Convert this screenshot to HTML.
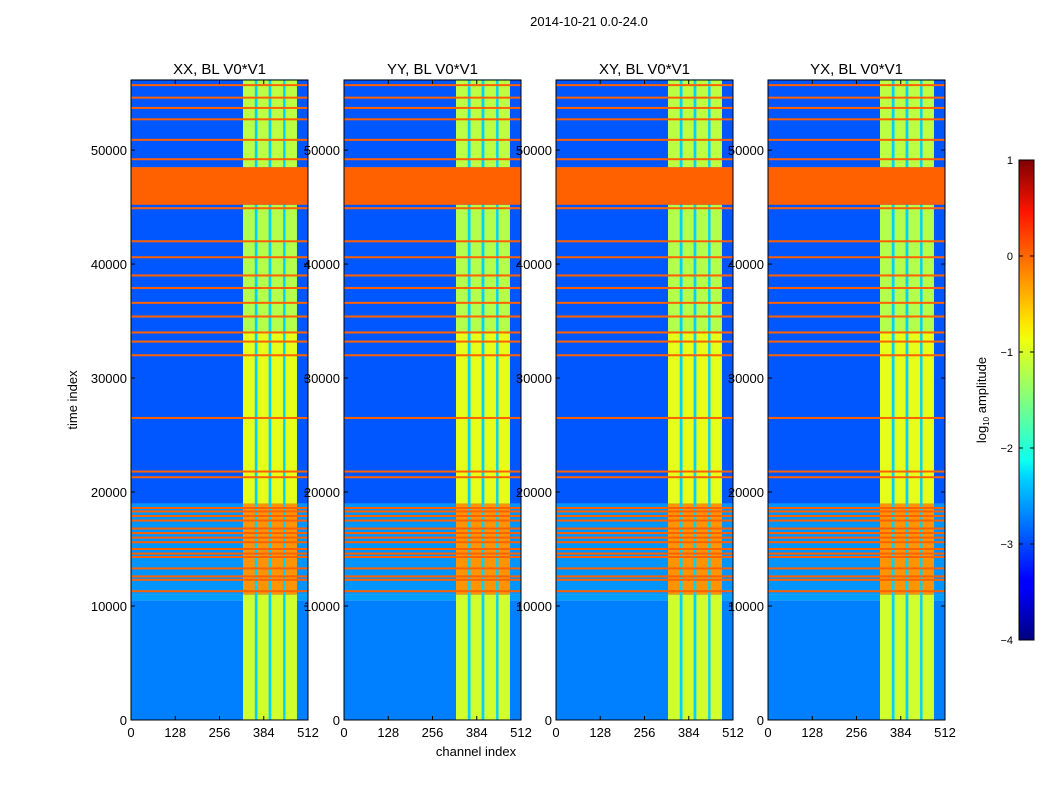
<!DOCTYPE html>
<html><head><meta charset="utf-8">
<style>
body{margin:0;background:#fff;}
svg{display:block;font-family:"Liberation Sans",sans-serif;}
</style></head>
<body>
<svg id="fig" width="1050" height="800" viewBox="0 0 1050 800">
<defs>
<linearGradient id="jet" x1="0" y1="1" x2="0" y2="0">
<stop offset="0" stop-color="#00007f"/><stop offset="0.11" stop-color="#0000ff"/>
<stop offset="0.125" stop-color="#0000ff"/><stop offset="0.34" stop-color="#00d4ff"/>
<stop offset="0.375" stop-color="#0fffef"/><stop offset="0.5" stop-color="#80ff7f"/>
<stop offset="0.625" stop-color="#efff0f"/><stop offset="0.66" stop-color="#ffe600"/>
<stop offset="0.8" stop-color="#ff6800"/><stop offset="0.89" stop-color="#ff1600"/>
<stop offset="1" stop-color="#7f0000"/>
</linearGradient>
</defs>
<text x="589" y="26" font-size="13" text-anchor="middle">2014-10-21 0.0-24.0</text>
<g id="panels"></g>
<g>
<rect x="1019" y="160" width="15" height="480" fill="url(#jet)" stroke="#000" stroke-width="1"/>
<g id="cbticks"></g>
<text transform="translate(986,400) rotate(-90)" font-size="13" text-anchor="middle">log<tspan font-size="8" dy="3">10</tspan><tspan dy="-3"> amplitude</tspan></text>
</g>
<text x="476" y="756" font-size="13" text-anchor="middle">channel index</text>
<text transform="translate(77,400) rotate(-90)" font-size="13" text-anchor="middle">time index</text>
</svg>
<script>
const panelTitles = ['XX, BL V0*V1','YY, BL V0*V1','XY, BL V0*V1','YX, BL V0*V1'];
const panelLefts = [131, 344, 556, 768];
const bgSegStart = [0, 10500, 11000, 19000, 45000, 48500];
const bgSegEnd   = [10500, 11000, 19000, 45000, 48500, 56200];
const bgLevels   = [-2.75, -2.6, -2.65, -2.95, -2.95, -2.95];
const bandChStart = [324, 366, 406, 447];
const bandChEnd   = [358, 398, 440, 480];
const bandSegStart = [0, 11000, 19000, 34000, 48500];
const bandSegEnd   = [11000, 19000, 34000, 45200, 56200];
const bandLevels   = [-1.1, -0.35, -1.0, -1.25, -1.2];
const gapLevel = -2.35;
const rfiTimes = [55700,54600,53700,52700,50900,49200,44900,42000,40600,39000,37900,36600,35400,34000,33200,32000,26500,21800,21300,18600,18300,17900,17500,16800,16400,16000,15600,15000,14600,14300,13300,12600,12300,11300];
const rfiLevel = -0.1;
const flagStart = 45200, flagEnd = 48500, flagLevel = -0.1;
const xTicks = [0,128,256,384,512];
const yTicks = [0,10000,20000,30000,40000,50000];
const cbTicks = [1,0,-1,-2,-3,-4];
const TMAX = 56150, CMAX = 512;
const PW = 177, PTOP = 80, PBOT = 720;

function jet(v){
  let t=(v+4)/5; t=Math.max(0,Math.min(1,t));
  const c=x=>Math.max(0,Math.min(1,x));
  const r=c(Math.min(4*t-1.5,-4*t+4.5)), g=c(Math.min(4*t-0.5,-4*t+3.5)), b=c(Math.min(4*t+0.5,-4*t+2.5));
  return `rgb(${Math.round(r*255)},${Math.round(g*255)},${Math.round(b*255)})`;
}
const ys = t => PBOT - t/TMAX*(PBOT-PTOP);
const NS='http://www.w3.org/2000/svg';
function el(tag, attrs, parent){const e=document.createElementNS(NS,tag);for(const k in attrs)e.setAttribute(k,attrs[k]);parent.appendChild(e);return e;}
const root=document.getElementById('panels');
panelTitles.forEach((title,p)=>{
  const x0=panelLefts[p];
  const xs = c => x0 + c/CMAX*PW;
  const g=el('g',{},root);
  
  
  bgSegStart.forEach((s,i)=>{
    const r=el('rect',{x:x0,y:ys(bgSegEnd[i]),width:PW,height:ys(s)-ys(bgSegEnd[i]),fill:jet(bgLevels[i])},g);
    
    
  });
  bandSegStart.forEach((s,i)=>{
    const gr=el('rect',{x:xs(bandChStart[0]),y:ys(bandSegEnd[i]),width:xs(bandChEnd[3])-xs(bandChStart[0]),height:ys(s)-ys(bandSegEnd[i]),fill:jet(gapLevel)},g);
    
    
    bandChStart.forEach((c,j)=>{
      const r=el('rect',{x:xs(c),y:ys(bandSegEnd[i]),width:xs(bandChEnd[j])-xs(c),height:ys(s)-ys(bandSegEnd[i]),fill:jet(bandLevels[i])},g);
      
      
    });
  });
  rfiTimes.forEach(t=>{
    const r=el('rect',{x:x0,y:ys(t)-1,width:PW,height:2,fill:jet(rfiLevel)},g);
    
    
  });
  const f=el('rect',{x:x0,y:ys(flagEnd),width:PW,height:ys(flagStart)-ys(flagEnd),fill:jet(flagLevel)},g);
  
  
  el('rect',{x:x0,y:PTOP,width:PW,height:PBOT-PTOP,fill:'none',stroke:'#000','stroke-width':1},g);
  const tt=el('text',{x:x0+PW/2,y:74,'font-size':15,'text-anchor':'middle'},g);
  tt.textContent=title;
  
  
  xTicks.forEach(v=>{
    el('line',{x1:xs(v),x2:xs(v),y1:PBOT,y2:PBOT-4,stroke:'#000'},g);
    el('line',{x1:xs(v),x2:xs(v),y1:PTOP,y2:PTOP+4,stroke:'#000'},g);
    const t=el('text',{x:xs(v),y:PBOT+17,'font-size':13,'text-anchor':'middle'},g);
    t.textContent=v;
    
    
  });
  yTicks.forEach(v=>{
    el('line',{x1:x0,x2:x0+4,y1:ys(v),y2:ys(v),stroke:'#000'},g);
    el('line',{x1:x0+PW,x2:x0+PW-4,y1:ys(v),y2:ys(v),stroke:'#000'},g);
    const t=el('text',{x:x0-4,y:ys(v)+5,'font-size':13,'text-anchor':'end'},g);
    t.textContent=v;
    
    
  });
});
const cb=document.getElementById('cbticks');
cbTicks.forEach(v=>{
  const y=640-(v+4)/5*480;
  el('line',{x1:1019,x2:1023,y1:y,y2:y,stroke:'#000'},cb);
  el('line',{x1:1030,x2:1034,y1:y,y2:y,stroke:'#000'},cb);
  const t=el('text',{x:1013,y:y+4,'font-size':11,'text-anchor':'end'},cb);
  t.textContent=v<0?'\u2212'+(-v):v;
  
  
});
</script>
</body></html>
